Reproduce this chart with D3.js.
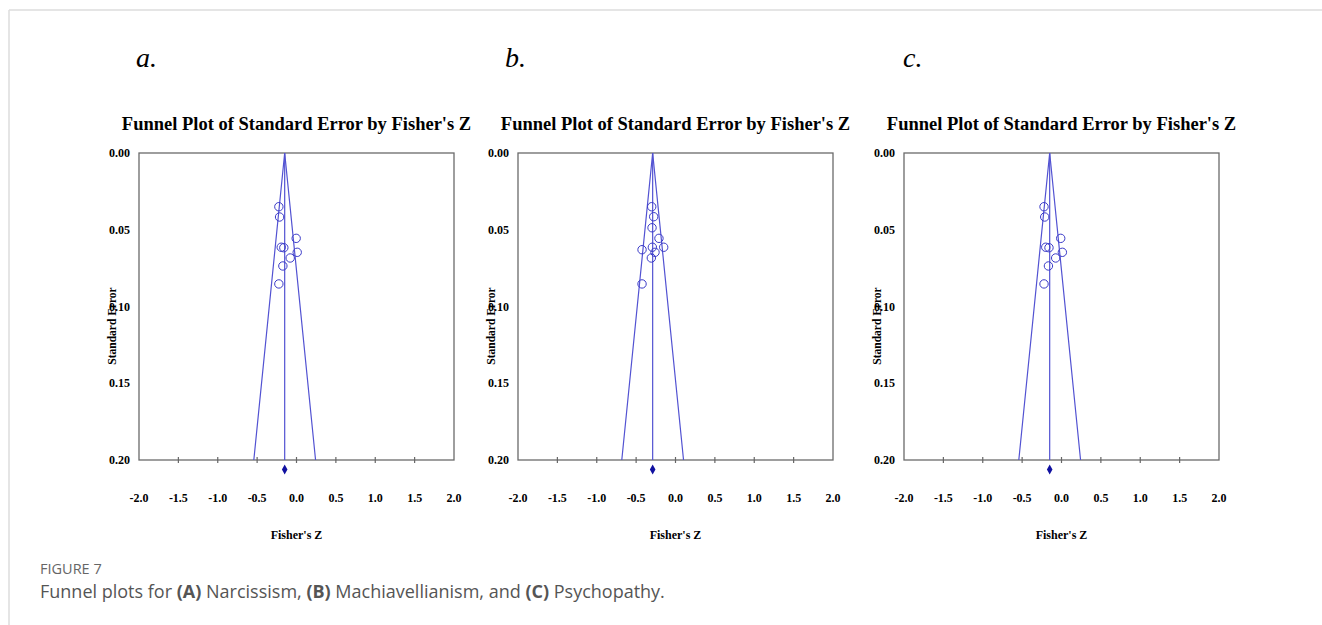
<!DOCTYPE html>
<html>
<head>
<meta charset="utf-8">
<title>Funnel plots</title>
<script src="https://d3js.org/d3.v7.min.js"></script>
<style>
  body { margin:0; background:#fff; }
  svg { display:block; }
  .serif { font-family:"Liberation Serif","DejaVu Serif",serif; }
  .cap { font-family:"Open Sans",Lato,sans-serif; fill:#555; }
</style>
</head>
<body>
<svg width="1322" height="625"></svg>
<script>
// data
var panelLetters = ["a.", "b.", "c."];
var pooledZ = [-0.15, -0.29, -0.15];
var zA = [-0.224, -0.215, -0.004, -0.194, -0.161, 0.009, -0.08, -0.173, -0.224];
var seA = [0.035, 0.0417, 0.0556, 0.0614, 0.0617, 0.0647, 0.0684, 0.0736, 0.0853];
var zB = [-0.302, -0.277, -0.298, -0.21, -0.425, -0.294, -0.15, -0.26, -0.307, -0.425];
var seB = [0.035, 0.0415, 0.0487, 0.0556, 0.063, 0.0614, 0.0614, 0.0647, 0.0684, 0.0853];
var zC = [-0.222, -0.213, -0.01, -0.2, -0.159, 0.011, -0.074, -0.166, -0.222];
var seC = [0.035, 0.0417, 0.0556, 0.0614, 0.0617, 0.0647, 0.0684, 0.0736, 0.0853];
var xTicks = [-2.0, -1.5, -1.0, -0.5, 0.0, 0.5, 1.0, 1.5, 2.0];
var yTicks = [0.00, 0.05, 0.10, 0.15, 0.20];

var panels = [
  {z: zA, se: seA, left: 139, letterX: 136},
  {z: zB, se: seB, left: 518, letterX: 505},
  {z: zC, se: seC, left: 904, letterX: 903}
];

var svg = d3.select("svg");

// page frame
svg.append("line").attr("x1", 9).attr("y1", 10).attr("x2", 1322).attr("y2", 10)
  .style("stroke", "#dcdcdc").style("stroke-width", 1.5);
svg.append("line").attr("x1", 9).attr("y1", 10).attr("x2", 9).attr("y2", 625)
  .style("stroke", "#dcdcdc").style("stroke-width", 1.5);

var W = 315, plotTop = 153, H = 307;
var funnelCol = "#5252d2", dotCol = "#3a3ac8";
var fmt1 = function(d){ return d3.format(".1f")(d).replace("\u2212", "-"); };

panels.forEach(function(p, i){
  var x = d3.scaleLinear().domain([-2, 2]).range([p.left, p.left + W]);
  var y = d3.scaleLinear().domain([0, 0.2]).range([plotTop, plotTop + H]);
  var g = svg.append("g");
  var mid = p.left + W / 2;

  g.append("text").attr("class", "serif").attr("x", p.letterX).attr("y", 67)
    .style("font-size", "28px").style("font-style", "italic").text(panelLetters[i]);

  g.append("text").attr("class", "serif").attr("x", mid).attr("y", 130)
    .attr("text-anchor", "middle").style("font-size", "18.5px").style("font-weight", "bold")
    .text("Funnel Plot of Standard Error by Fisher's Z");

  g.append("rect").attr("x", p.left).attr("y", plotTop).attr("width", W).attr("height", H)
    .style("fill", "none").style("stroke", "#6a6a6a").style("stroke-width", 1.3);

  // x ticks crossing the bottom edge
  g.selectAll("line.xt").data(xTicks.slice(1, -1)).enter().append("line")
    .attr("x1", function(d){ return x(d); }).attr("x2", function(d){ return x(d); })
    .attr("y1", plotTop + H - 3).attr("y2", plotTop + H + 3)
    .style("stroke", "#666").style("stroke-width", 1.2);

  g.selectAll("text.xl").data(xTicks).enter().append("text").attr("class", "serif")
    .attr("x", function(d){ return x(d); }).attr("y", 502).attr("text-anchor", "middle")
    .style("font-size", "12px").style("font-weight", "bold")
    .text(fmt1);

  g.selectAll("text.yl").data(yTicks).enter().append("text").attr("class", "serif")
    .attr("x", p.left - 9).attr("y", function(d){ return y(d) + 4; }).attr("text-anchor", "end")
    .style("font-size", "12px").style("font-weight", "bold")
    .text(function(d){ return d3.format(".2f")(d); });

  g.append("text").attr("class", "serif")
    .attr("transform", "translate(" + (p.left - 23) + ",326) rotate(-90)")
    .attr("text-anchor", "middle").style("font-size", "11.5px").style("font-weight", "bold")
    .text("Standard Error");

  g.append("text").attr("class", "serif").attr("x", mid).attr("y", 539)
    .attr("text-anchor", "middle").style("font-size", "12px").style("font-weight", "bold")
    .text("Fisher's Z");

  // funnel
  var m = pooledZ[i];
  var funnel = d3.line().x(function(d){ return x(d[0]); }).y(function(d){ return y(d[1]); });
  g.append("path").attr("d", funnel([[m - 1.96 * 0.2, 0.2], [m, 0], [m + 1.96 * 0.2, 0.2]]))
    .style("fill", "none").style("stroke", funnelCol).style("stroke-width", 1.2);
  g.append("line").attr("x1", x(m)).attr("x2", x(m)).attr("y1", y(0)).attr("y2", y(0.2))
    .style("stroke", funnelCol).style("stroke-width", 1.2);

  g.selectAll("circle").data(p.z).enter().append("circle")
    .attr("cx", function(d){ return x(d); })
    .attr("cy", function(d, j){ return y(p.se[j]); })
    .attr("r", 4.2).style("fill", "none").style("stroke", dotCol).style("stroke-width", 1);

  // pooled estimate diamond
  var dx = x(m), dy = 469.5;
  g.append("path").attr("d", "M" + dx + "," + (dy - 5) + "L" + (dx + 2.8) + "," + dy +
      "L" + dx + "," + (dy + 5) + "L" + (dx - 2.8) + "," + dy + "Z")
    .style("fill", "#1010a0");
});

svg.append("text").attr("class", "cap").attr("x", 40).attr("y", 574)
  .style("font-size", "14.5px").style("fill", "#666").text("FIGURE 7");

var cap = svg.append("text").attr("class", "cap").attr("x", 40).attr("y", 598).style("font-size", "18px");
[["Funnel plots for ", false], ["(A)", true], [" Narcissism, ", false], ["(B)", true],
 [" Machiavellianism, and ", false], ["(C)", true], [" Psychopathy.", false]].forEach(function(s){
  cap.append("tspan").style("font-weight", s[1] ? "bold" : "normal").text(s[0]);
});
</script>
</body>
</html>
